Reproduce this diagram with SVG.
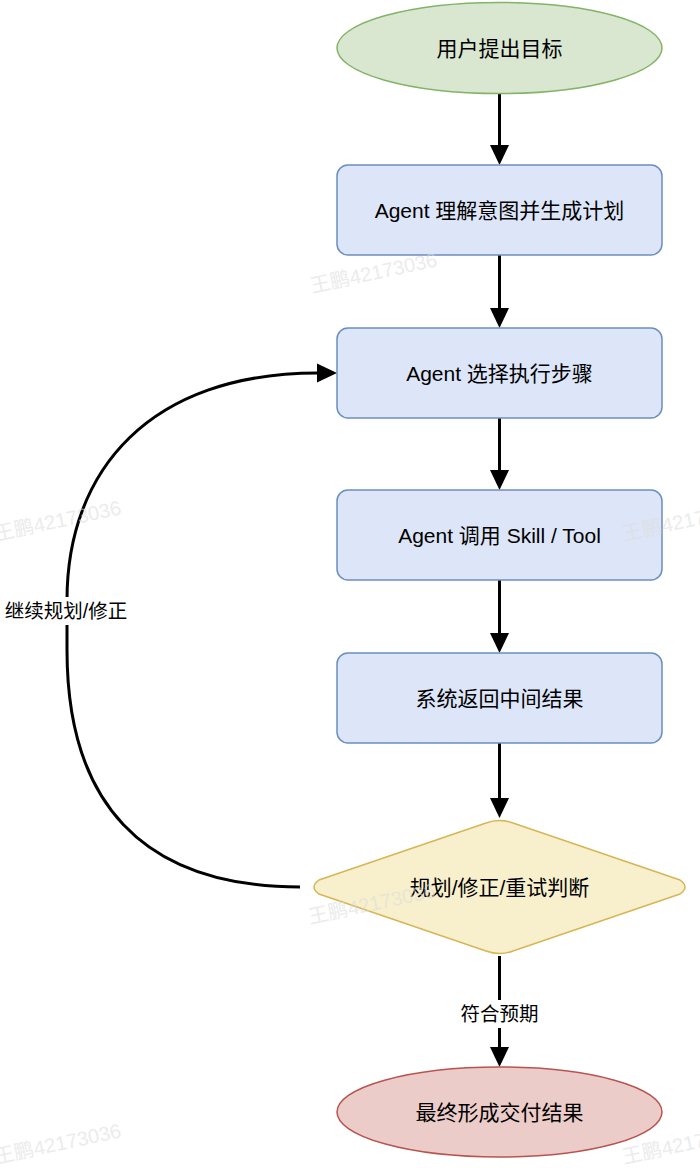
<svg xmlns="http://www.w3.org/2000/svg" width="700" height="1168" viewBox="0 0 700 1168">
  <defs>
    <marker id="arrow" markerUnits="userSpaceOnUse" markerWidth="20" markerHeight="20" viewBox="0 0 20 20" refX="1" refY="10" orient="auto">
      <path d="M0,0.5 L20,10 L0,19.5 Z" fill="#000"/>
    </marker>
  </defs>
  <style>
    .t { font-family: "Liberation Sans", "Noto Sans CJK SC", sans-serif; font-size: 21px; fill: #000; text-anchor: middle; dominant-baseline: central; }
    .lbl { font-family: "Liberation Sans", "Noto Sans CJK SC", sans-serif; font-size: 19.5px; fill: #000; text-anchor: middle; dominant-baseline: central; }
    .box { fill: #dde6f8; stroke: #6c8ebf; stroke-width: 1.5; }
    .edge { fill: none; stroke: #000; stroke-width: 3; }
    .wm { font-family: "Liberation Sans", "Noto Sans CJK SC", sans-serif; font-size: 20px; fill: #dcdcdc; opacity: 0.55; }
  </style>
  <rect width="700" height="1168" fill="#ffffff"/>

  <g id="connectors">
    <line class="edge" x1="499.5" y1="93" x2="499.5" y2="146" marker-end="url(#arrow)"/>
    <line class="edge" x1="499.5" y1="255" x2="499.5" y2="309" marker-end="url(#arrow)"/>
    <line class="edge" x1="499.5" y1="418" x2="499.5" y2="471" marker-end="url(#arrow)"/>
    <line class="edge" x1="499.5" y1="580" x2="499.5" y2="634" marker-end="url(#arrow)"/>
    <line class="edge" x1="499.5" y1="743" x2="499.5" y2="799" marker-end="url(#arrow)"/>
    <line class="edge" x1="499.5" y1="956" x2="499.5" y2="1048" marker-end="url(#arrow)"/>
    <path class="edge" d="M300,887 C140,887 67,800 67,650 L67,600 C67,470 150,373 318,373" marker-end="url(#arrow)"/>
    <rect x="457" y="1000" width="84" height="28" fill="#ffffff"/>
    <text class="lbl" x="499.5" y="1014">符合预期</text>
    <rect x="2" y="597" width="128" height="28" fill="#ffffff"/>
    <text class="lbl" x="66" y="611">继续规划/修正</text>
  </g>

  <g id="start">
    <ellipse cx="499.5" cy="48" rx="162.5" ry="45.5" fill="#d9e7d1" stroke="#82b366" stroke-width="1.5"/>
    <text class="t" x="499.5" y="48">用户提出目标</text>
  </g>
  <g id="step1">
    <rect class="box" x="337" y="165" width="325" height="90" rx="11"/>
    <text class="t" x="499.5" y="210">Agent 理解意图并生成计划</text>
  </g>
  <g id="step2">
    <rect class="box" x="337" y="328" width="325" height="90" rx="11"/>
    <text class="t" x="499.5" y="373">Agent 选择执行步骤</text>
  </g>
  <g id="step3">
    <rect class="box" x="337" y="490" width="325" height="90" rx="11"/>
    <text class="t" x="499.5" y="535">Agent 调用 Skill / Tool</text>
  </g>
  <g id="step4">
    <rect class="box" x="337" y="653" width="325" height="90" rx="11"/>
    <text class="t" x="499.5" y="698">系统返回中间结果</text>
  </g>
  <g id="decision">
    <path d="M486,823 Q499.5,818 513,823 L680,880 Q690,887 680,894 L513,951 Q499.5,956 486,951 L319,894 Q309,887 319,880 Z" fill="#f8f0cc" stroke="#d6b656" stroke-width="1.5"/>
    <text class="t" x="499.5" y="887">规划/修正/重试判断</text>
  </g>
  <g id="end">
    <ellipse cx="499.5" cy="1112" rx="162.5" ry="45" fill="#ecccc9" stroke="#b85450" stroke-width="1.5"/>
    <text class="t" x="499.5" y="1112">最终形成交付结果</text>
  </g>

  <g id="watermarks">
    <text class="wm" transform="translate(312,293) rotate(-12)">王鹏42173036</text>
    <text class="wm" transform="translate(-4,541) rotate(-12)">王鹏42173036</text>
    <text class="wm" transform="translate(624,541) rotate(-12)">王鹏42173036</text>
    <text class="wm" transform="translate(310,924) rotate(-12)">王鹏42173036</text>
    <text class="wm" transform="translate(-4,1164) rotate(-12)">王鹏42173036</text>
    <text class="wm" transform="translate(624,1164) rotate(-12)">王鹏42173036</text>
  </g>
</svg>
